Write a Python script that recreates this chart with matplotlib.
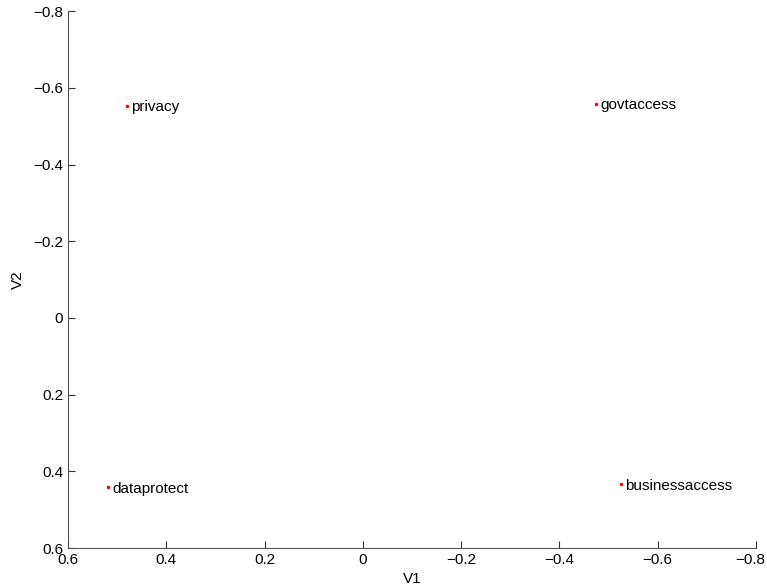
import matplotlib
matplotlib.use("Agg")
import matplotlib.pyplot as plt
from matplotlib.transforms import ScaledTranslation

plt.rcParams['font.family'] = ['Liberation Sans', 'DejaVu Sans']

labels = ["privacy", "govtaccess", "dataprotect", "businessaccess"]
v1 = [0.481, -0.474, 0.519, -0.525]
v2 = [-0.553, -0.558, 0.442, 0.434]

fig = plt.figure(figsize=(7.67, 5.88), dpi=100)
ax = fig.add_axes([0.0887, 0.068, 0.897, 0.913])

ax.plot(v1, v2, linestyle='none', marker='.', markersize=3, color='red')
for x, y, s in zip(v1, v2, labels):
    ax.annotate(s, (x, y), xytext=(3, -1), textcoords='offset points',
                va='center', ha='left', fontsize=11)

ax.set_xlim(0.6, -0.8)
ax.set_ylim(0.6, -0.8)
ax.set_xticks([0.6, 0.4, 0.2, 0, -0.2, -0.4, -0.6, -0.8])
ax.set_yticks([-0.8, -0.6, -0.4, -0.2, 0, 0.2, 0.4, 0.6])
ax.set_xticklabels(["0.6", "0.4", "0.2", "0", "\u22120.2", "\u22120.4", "\u22120.6", "\u22120.8"])
ax.set_yticklabels(["\u22120.8", "\u22120.6", "\u22120.4", "\u22120.2", "0", "0.2", "0.4", "0.6"])
ax.tick_params(direction='in', length=5, labelsize=11, colors='#333333', labelcolor='black')
# MATLAB nudges the last x label so it stays inside the figure
last = ax.get_xticklabels()[-1]
last.set_transform(last.get_transform() + ScaledTranslation(-6 / 100, 0, fig.dpi_scale_trans))
for side in ['top', 'right']:
    ax.spines[side].set_visible(False)
for side in ['left', 'bottom']:
    ax.spines[side].set_color('#555555')
ax.set_xlabel("V1", fontsize=11, labelpad=4)
ax.set_ylabel("V2", fontsize=11, labelpad=6)

fig.savefig("out.png", dpi=100)
